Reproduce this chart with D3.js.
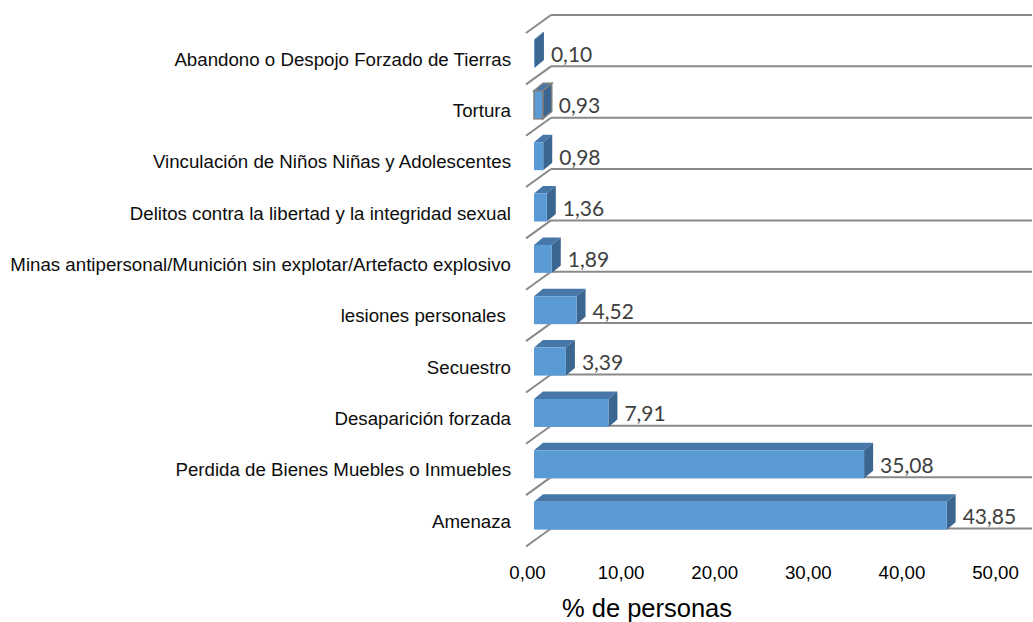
<!DOCTYPE html>
<html>
<head>
<meta charset="utf-8">
<script src="https://cdn.jsdelivr.net/npm/d3@7"></script>
<style>
	body { margin: 0; background: #ffffff; }
	svg { display: block; }
</style>
</head>
<body>
<div id="bar-chart-3d"></div>
<script>

// categories, top to bottom
const categories = [
	"Abandono o Despojo Forzado de Tierras",
	"Tortura",
	"Vinculación de Niños Niñas y Adolescentes",
	"Delitos contra la libertad y la integridad sexual",
	"Minas antipersonal/Munición sin explotar/Artefacto explosivo",
	"lesiones personales ",
	"Secuestro",
	"Desaparición forzada",
	"Perdida de Bienes Muebles o Inmuebles",
	"Amenaza"
];
const values = [0.10, 0.93, 0.98, 1.36, 1.89, 4.52, 3.39, 7.91, 35.08, 43.85];
const tick_values = [0, 10, 20, 30, 40, 50];
const axis_title = "% de personas";

class Bar3DChart {

	constructor(element_id) {

		const width = 1033, height = 622;
		const data = categories.map((c, i) => ({category: c, value: values[i]}));

		const svg = d3.select("#" + element_id)
			.append("svg")
				.attr("width", width)
				.attr("height", height);

		const es = d3.formatLocale({decimal: ",", thousands: ".", grouping: [3], currency: ["", ""]});
		const fmt = es.format(".2f");

		// depth of the 3d box (left wall front -> back wall)
		const wall = {x0: 526, x1: 551, dy: 18};
		// depth of each bar
		const depth = {dx: 9, dy: 7.5};

		// category band on the back wall
		const y_axis = d3.scaleBand()
			.domain(categories)
			.range([15, 528.5]);

		// value scale for the floor front (tick labels) and for the bar front faces
		const x_axis = d3.scaleLinear().domain([0, 50]).range([527, 995]);
		const x_bar = d3.scaleLinear().domain([0, 50]).range([534, 1004.5]);

		// boundaries between categories
		const bounds = categories.map(c => y_axis(c)).concat([y_axis.range()[1]]);

		const grid = svg.append("g")
			.attr("stroke", "#898989")
			.attr("stroke-width", 2)
			.attr("fill", "none");

		grid.selectAll(".back")
			.data(bounds)
			.join("line")
				.attr("x1", wall.x1)
				.attr("x2", 1032)
				.attr("y1", d => d)
				.attr("y2", d => d);

		grid.selectAll(".side")
			.data(bounds)
			.join("line")
				.attr("x1", wall.x0)
				.attr("y1", d => d + wall.dy)
				.attr("x2", wall.x1)
				.attr("y2", d => d);

		// bars
		const bw = y_axis.bandwidth();
		const bars = svg.append("g")
			.selectAll("g")
			.data(data)
			.join("g");

		const front_top = d => y_axis(d.category) + bw * 0.477;
		const bar_h = bw * 0.545;

		bars.each(function(d) {
			const g = d3.select(this);
			const x0 = x_bar(0), x1 = x_bar(d.value);
			const yt = front_top(d), yb = yt + bar_h;
			const outline = d.category === "Tortura" ? "#7f7f7f" : "none";

			// top face
			g.append("path")
				.attr("d", d3.line()([[x0, yt], [x0 + depth.dx, yt - depth.dy], [x1 + depth.dx, yt - depth.dy], [x1, yt]]) + "Z")
				.attr("fill", "#4677a8")
				.attr("stroke", outline)
				.attr("stroke-width", 1.5);

			// side face
			g.append("path")
				.attr("d", d3.line()([[x1, yt], [x1 + depth.dx, yt - depth.dy], [x1 + depth.dx, yb - depth.dy], [x1, yb]]) + "Z")
				.attr("fill", "#3b6690")
				.attr("stroke", outline)
				.attr("stroke-width", 1.5);

			// front face
			g.append("rect")
				.attr("x", x0)
				.attr("y", yt)
				.attr("width", x1 - x0)
				.attr("height", bar_h)
				.attr("fill", "#5b9bd5")
				.attr("stroke", outline)
				.attr("stroke-width", 1.5);
		});

		// value labels
		svg.append("g")
			.selectAll("text")
			.data(data)
			.join("text")
				.attr("x", d => x_bar(d.value) + depth.dx + 7)
				.attr("y", d => front_top(d) + bar_h / 2 + 8.5)
				.attr("font-family", "Lato, 'Open Sans', sans-serif")
				.attr("font-size", 21)
				.attr("fill", "#404040")
				.text(d => fmt(d.value));

		// category labels
		svg.append("g")
			.selectAll("text")
			.data(data)
			.join("text")
				.attr("x", 511)
				.attr("y", d => y_axis(d.category) + wall.dy + bw / 2 + 7)
				.attr("text-anchor", "end")
				.attr("font-family", "'Liberation Sans', Arial, sans-serif")
				.attr("font-size", 18.7)
				.attr("fill", "#0d0d0d")
				.style("white-space", "pre")
				.text(d => d.category);

		// value axis
		const xg = svg.append("g")
			.attr("transform", "translate(0,579)")
			.call(d3.axisBottom(x_axis).tickValues(tick_values).tickSize(0).tickFormat(fmt));

		xg.select(".domain").remove();
		xg.selectAll("text")
			.attr("y", 0)
			.attr("dy", 0)
			.attr("font-family", "'Liberation Sans', Arial, sans-serif")
			.attr("font-size", 18.7)
			.attr("fill", "#000000");

		svg.append("text")
			.attr("x", 647)
			.attr("y", 616.5)
			.attr("text-anchor", "middle")
			.attr("font-family", "'Liberation Sans', Arial, sans-serif")
			.attr("font-size", 25.5)
			.attr("fill", "#000000")
			.text(axis_title);
	}
}

function whenDocumentLoaded(action) {
	if (document.readyState === "loading") {
		document.addEventListener("DOMContentLoaded", action);
	} else {
		action();
	}
}

whenDocumentLoaded(() => {
	plot_object = new Bar3DChart('bar-chart-3d');
});
</script>
</body>
</html>
